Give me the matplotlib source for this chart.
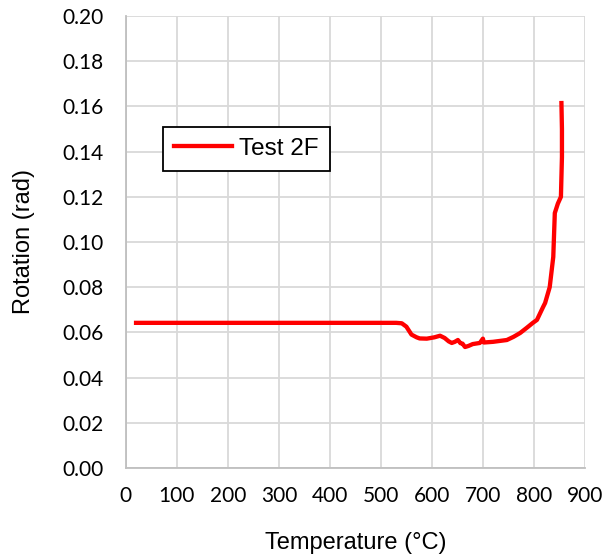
import matplotlib
matplotlib.use("Agg")
import matplotlib.pyplot as plt

# Test 2F: rotation vs temperature
temp = [20, 100, 200, 300, 400, 500, 530, 541, 550, 560, 570, 576, 590, 605,
        616, 625, 633, 639, 645, 651, 656, 660, 665, 672, 680, 694, 700, 702,
        720, 747, 760, 773, 786, 798, 806, 818, 822, 831, 838, 841, 847, 853,
        855, 855, 854]
rot = [0.0642, 0.0642, 0.0642, 0.0642, 0.0642, 0.0642, 0.0642, 0.0640, 0.0625,
       0.0590, 0.0578, 0.0573, 0.0572, 0.0578, 0.0585, 0.0575, 0.0560, 0.0553,
       0.0558, 0.0566, 0.0552, 0.0550, 0.0535, 0.0540, 0.0548, 0.0553, 0.0572,
       0.0555, 0.0558, 0.0566, 0.0580, 0.0597, 0.0620, 0.0642, 0.0655, 0.0712,
       0.0730, 0.0800, 0.0934, 0.1128, 0.1170, 0.1200, 0.1376, 0.1500, 0.1615]

xticks = list(range(0, 1000, 100))
yticks = [i * 0.02 for i in range(11)]

fig = plt.figure(figsize=(6.08, 5.55), dpi=100)
ax = fig.add_axes([0.207, 0.157, 0.755, 0.814])

ax.plot(temp, rot, color="#ff0000", lw=3.1, label="Test 2F")

ax.set_xlim(0, 900)
ax.set_ylim(0, 0.20)
ax.set_xticks(xticks)
ax.set_yticks(yticks)
ax.set_yticklabels([f"{v:.2f}" for v in yticks])
ax.tick_params(length=0, labelsize=15)
ax.tick_params(axis="x", pad=13)
ax.tick_params(axis="y", pad=16)
for lbl in ax.get_xticklabels() + ax.get_yticklabels():
    lbl.set_family("Lato")

ax.grid(True, color="#d9d9d9", lw=1.3)
ax.set_axisbelow(True)
for s in ["top", "right"]:
    ax.spines[s].set_visible(False)
for s in ["left", "bottom"]:
    ax.spines[s].set_color("#bfbfbf")
    ax.spines[s].set_linewidth(1.3)

ax.set_xlabel("Temperature (°C)", family="Liberation Sans", fontsize=17, labelpad=19)
ax.set_ylabel("Rotation (rad)", family="Liberation Sans", fontsize=17, labelpad=20)

leg = ax.legend(loc="upper left", bbox_to_anchor=(0.08, 0.755), fancybox=False,
                edgecolor="black", framealpha=1, handlelength=2.4,
                prop={"family": "Liberation Sans", "size": 17.5},
                borderpad=0.45, handletextpad=0.3, borderaxespad=0)
leg.get_frame().set_linewidth(1.3)

fig.savefig("out.png", dpi=100)
